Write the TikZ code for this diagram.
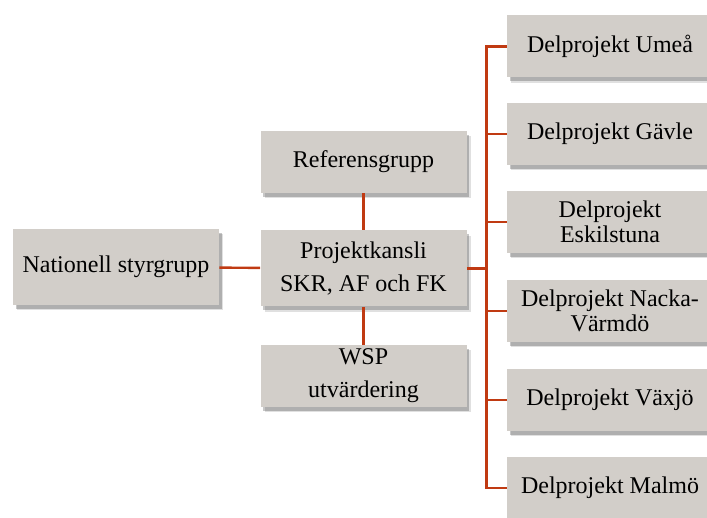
\documentclass[tikz,border=0pt]{standalone}
\usepackage{fontspec}
\setmainfont{Liberation Serif}
\definecolor{boxgray}{RGB}{210,206,201}
\definecolor{linkred}{RGB}{192,58,18}

\begin{document}
\begin{tikzpicture}[x=0.5pt,y=0.5pt]
\tikzstyle orgbox=[fill=boxgray, minimum width=103pt, inner sep=1pt, align=center,
  font=\fontsize{12}{12.5}\selectfont,
  preaction={fill=black, opacity=0.12, transform canvas={shift={(2.2pt,-2.6pt)}}},
  preaction={fill=black, opacity=0.22, transform canvas={shift={(1.3pt,-1.8pt)}}}]
\tikzstyle link=[linkred, line width=1.2pt]
\useasboundingbox (0,0) rectangle (707,-518);
\clip (0,0) rectangle (707,-518);

\node[orgbox, minimum height=38pt] (styr) at (116,-267) {Nationell styrgrupp};
\node[orgbox, minimum height=31pt] (ref) at (363.5,-162) {Referensgrupp};
\node[orgbox, minimum height=38pt] (kansli) at (363.5,-268.5) {Projektkansli\\[4pt]SKR, AF och FK};
\node[orgbox, minimum height=31pt] (wsp) at (363.5,-376) {WSP\\[4pt]utvärdering};

\foreach \name/\y/\txt in {ume/46.5/Delprojekt Umeå, gavle/134/Delprojekt Gävle,
    eskil/222/{Delprojekt\\Eskilstuna}, nacka/311/{Delprojekt Nacka-\\Värmdö},
    vaxjo/400/Delprojekt Växjö, malmo/488/Delprojekt Malmö}
  \node[orgbox, minimum height=31pt] (\name) at (610,-\y) {\txt};

\draw[link] (styr) -- (kansli);
\draw[link] (ref) -- (kansli);
\draw[link] (kansli) -- (wsp);
\draw[link] (kansli.east) -- ++(20,0);
\draw[link] (ume.west) -- ++(-20,0) |- (malmo.west);
\foreach \name in {gavle,eskil,nacka,vaxjo}
  \draw[link] (\name.west) -- ++(-20,0);
\end{tikzpicture}
\end{document}
